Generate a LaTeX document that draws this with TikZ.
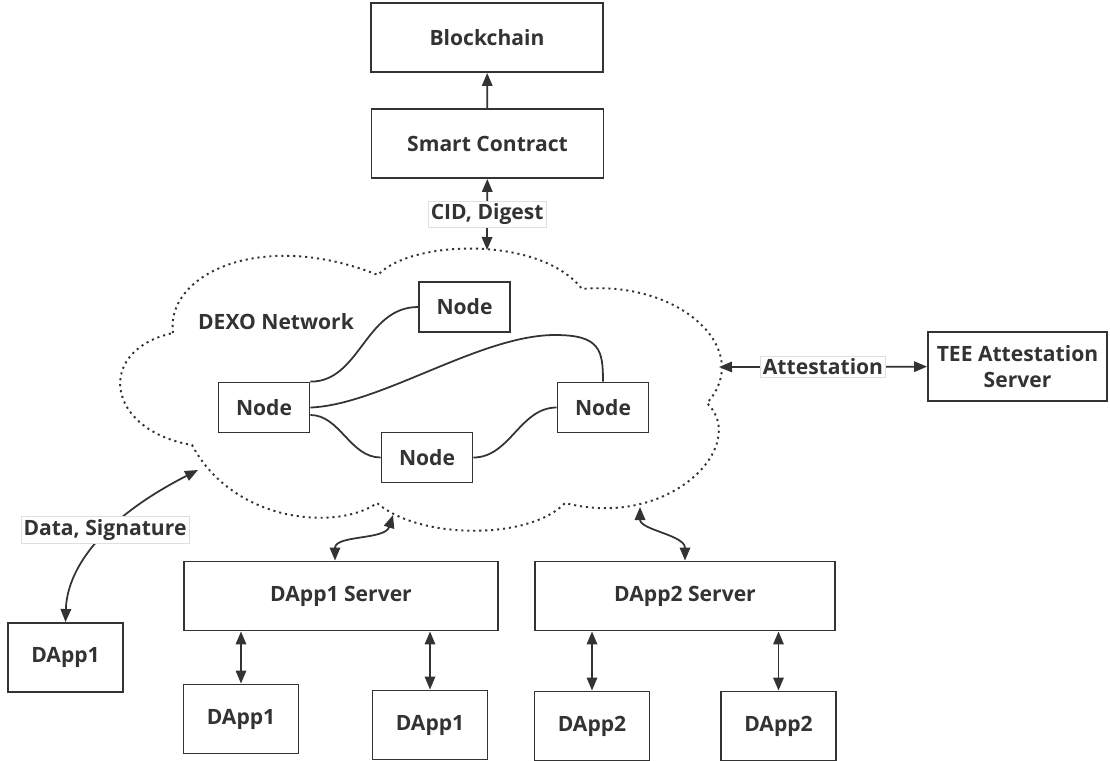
\documentclass[tikz,border=0pt]{standalone}
\usepackage{fontspec}
\setmainfont{Open Sans}
\usetikzlibrary{arrows.meta}
\definecolor{ink}{HTML}{333333}

\begin{document}
\begin{tikzpicture}[x=0.02cm, y=-0.02cm,
    every node/.style={font=\fontsize{12}{14.5}\selectfont\bfseries, text=ink},
    box/.style={draw=ink, line width=1.1pt, rectangle, minimum width=#1, minimum height=1.38cm},
    box/.default=2.3cm,
    netnode/.style={draw=ink, line width=1pt, rectangle, minimum width=1.82cm, minimum height=1cm},
    tag/.style={fill=white, draw=gray!25, line width=0.4pt, inner sep=1.5pt},
    link/.style={draw=ink, line width=1pt},
    tip/.style={link, -{Triangle[length=0.26cm, width=0.21cm]}},
    twotip/.style={link, {Triangle[length=0.26cm, width=0.21cm]}-{Triangle[length=0.26cm, width=0.21cm]}}]

    \useasboundingbox (0,0) rectangle (1110,761);

    % top of the chain
    \node[box=4.64cm] (chain) at (487,37.5) {Blockchain};
    \node[box=4.64cm] (contract) at (487.5,143.5) {Smart Contract};

    % the cloud
    \draw[ink, line width=1.1pt, dash pattern=on 1.2pt off 2.2pt]
        (173,333) .. controls (165,275) and (260,228) .. (378,275)
        .. controls (410,240) and (540,235) .. (582,289)
        .. controls (680,280) and (755,350) .. (707,403)
        .. controls (750,445) and (670,530) .. (565,503)
        .. controls (530,540) and (420,540) .. (377,503)
        .. controls (340,530) and (235,525) .. (192,445)
        .. controls (105,430) and (95,350) .. (173,333) -- cycle;
    \node (dexo) at (276,322) {DEXO Network};

    \coordinate (cloudtop) at (487,250);
    \coordinate (cloudright) at (719,367);
    \coordinate (cloudleft) at (198,470);
    \coordinate (cloudbotA) at (393,515);
    \coordinate (cloudbotB) at (640,507);

    % nodes of the network
    \node[netnode] (ntop) at (464.5,307) {Node};
    \node[netnode] (nleft) at (264,407.5) {Node};
    \node[netnode] (nright) at (603,407.5) {Node};
    \node[netnode] (nbot) at (427,457.5) {Node};

    \draw[link] (nleft.north east) .. controls (360,382) and (365,307) .. (ntop.west);
    \draw[link] (nleft.east) .. controls (380,405) and (480,335) .. (555,335)
        .. controls (600,335) and (603,350) .. (nright.north);
    \draw[link] ([yshift=-0.15cm]nleft.east) .. controls (340,415) and (350,457.5) .. (nbot.west);
    \draw[link] (nbot.east) .. controls (510,457.5) and (520,407.5) .. (nright.west);

    % attestation
    \node[box=3.58cm, align=center] (tee) at (1017.5,366.5) {TEE Attestation\\Server};

    % servers and dapps
    \node[box] (app0) at (65.5,657.5) {DApp1};
    \node[box=6.28cm] (srv1) at (341,596) {DApp1 Server};
    \node[box=6.0cm] (srv2) at (685,596) {DApp2 Server};
    \node[box] (app1a) at (241,719) {DApp1};
    \node[box] (app1b) at (430,725) {DApp1};
    \node[box] (app2a) at (592,726) {DApp2};
    \node[box] (app2b) at (778.5,726) {DApp2};

    % connectors
    \draw[tip] (contract) -- (chain);
    \draw[twotip] (cloudtop) -- node[tag] {CID, Digest} (contract);
    \draw[twotip] (cloudright) -- node[tag] {Attestation} (tee);
    \draw[twotip] (app0.north) .. controls (67,570) and (100,520) .. (cloudleft);
    \node[tag] (datasig) at (105,530) {Data, Signature};
    \draw[twotip] (srv1.north -| 335,0) .. controls (335,535) and (385,540) .. (cloudbotA);
    \draw[twotip] (srv2.north) .. controls (685,535) and (640,530) .. (cloudbotB);

    \draw[twotip] (app1a.north) -- (app1a.north |- srv1.south);
    \draw[twotip] (app1b.north) -- (app1b.north |- srv1.south);
    \draw[twotip] (app2a.north) -- (app2a.north |- srv2.south);
    \draw[twotip] (app2b.north) -- (app2b.north |- srv2.south);
\end{tikzpicture}
\end{document}
